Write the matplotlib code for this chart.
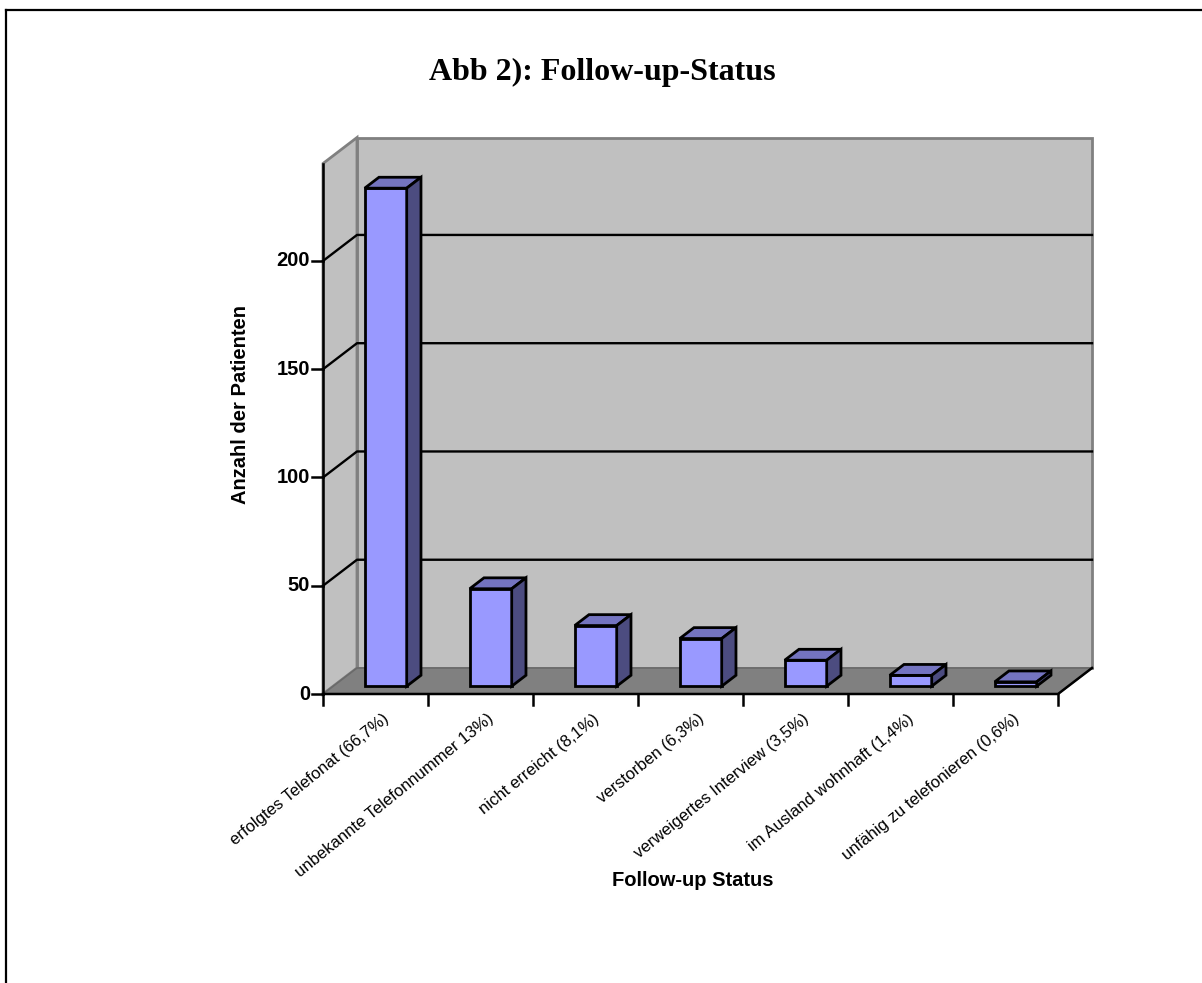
import numpy as np
import matplotlib
matplotlib.use("Agg")
import matplotlib.pyplot as plt
from matplotlib.patches import Polygon
from matplotlib.lines import Line2D

# Follow-up data
categories = [
    "erfolgtes Telefonat (66,7%)",
    "unbekannte Telefonnummer 13%)",
    "nicht erreicht (8,1%)",
    "verstorben (6,3%)",
    "verweigertes Interview (3,5%)",
    "im Ausland wohnhaft (1,4%)",
    "unfähig zu telefonieren (0,6%)",
]
patients = [230, 45, 28, 22, 12, 5, 2]
y_ticks = [0, 50, 100, 150, 200]
y_max = 245

W, H = 1202, 983
fig = plt.figure(figsize=(W / 100, H / 100), dpi=100)

# front plane of the 3d box (pixels)
left_px, right_px, base_px, top_px = 323, 1058, 694, 163.5
ax = fig.add_axes([left_px / W, 1 - base_px / H,
                   (right_px - left_px) / W, (base_px - top_px) / H])
n = len(categories)
ax.set_xlim(0, n)
ax.set_ylim(0, y_max)
ax.axis("off")

# depth offset of the box in data units
px_x = (right_px - left_px) / n
px_y = (base_px - top_px) / y_max
ddx = 34 / px_x
ddy = 26 / px_y


def pt(x, v, d):
    return (x + d * ddx, v + d * ddy)


def face(pts, fc, ec, lw=1.5, z=1):
    ax.add_patch(Polygon(pts, closed=True, facecolor=fc, edgecolor=ec,
                         linewidth=lw, joinstyle="miter", clip_on=False,
                         zorder=z))


wall = "#c0c0c0"
edge_gray = "#808080"

# back wall, side wall, floor
face([pt(0, 0, 1), pt(n, 0, 1), pt(n, y_max, 1), pt(0, y_max, 1)], wall, edge_gray, 2)
face([pt(0, 0, 0), pt(0, 0, 1), pt(0, y_max, 1), pt(0, y_max, 0)], wall, edge_gray, 2)
face([pt(0, 0, 0), pt(n, 0, 0), pt(n, 0, 1), pt(0, 0, 1)], "#808080", "#6a6a6a", 1.2)

# gridlines
for v in y_ticks[1:]:
    xs, ys = zip(pt(0, v, 0), pt(0, v, 1), pt(n, v, 1))
    ax.plot(xs, ys, color="black", lw=1.7, clip_on=False, zorder=2)

# bars
d0, d1 = 0.3, 0.72
half = 0.2
for i, val in enumerate(patients):
    x0, x1 = i + 0.5 - half, i + 0.5 + half
    face([pt(x0, 0, d0), pt(x1, 0, d0), pt(x1, val, d0), pt(x0, val, d0)],
         "#9999ff", "black", 2, 3)
    face([pt(x0, val, d0), pt(x1, val, d0), pt(x1, val, d1), pt(x0, val, d1)],
         "#7474c0", "black", 2, 3)
    face([pt(x1, 0, d0), pt(x1, 0, d1), pt(x1, val, d1), pt(x1, val, d0)],
         "#4c4c80", "black", 2, 3)

# axes lines
ax.plot([0, 0], [0, y_max], color="black", lw=1.8, clip_on=False, zorder=4)
xs, ys = zip(pt(0, 0, 0), pt(n, 0, 0), pt(n, 0, 1))
ax.plot(xs, ys, color="black", lw=1.8, clip_on=False, zorder=4)

tick_x = 11 / px_x
tick_y = 11 / px_y
for v in y_ticks:
    ax.plot([0, -tick_x], [v, v], color="black", lw=1.8, clip_on=False, zorder=4)
    ax.text(-tick_x - 2 / px_x, v, str(v), ha="right", va="center",
            fontsize=14.5, fontweight="bold", family="Liberation Sans")
for i in range(n + 1):
    ax.plot([i, i], [0, -tick_y], color="black", lw=1.8, clip_on=False, zorder=4)

for i, lab in enumerate(categories):
    ax.annotate(lab, xy=(i + 0.5, 0), xytext=(7, -17), textcoords="offset pixels",
                rotation=39, ha="right", va="top", rotation_mode="anchor",
                fontsize=12, family="Liberation Sans")

fig.text(602 / W, 1 - 72 / H, "Abb 2): Follow-up-Status", ha="center", va="center",
         fontsize=23, fontweight="bold", family="Liberation Serif")
fig.text(240 / W, 1 - 405 / H, "Anzahl der Patienten", ha="center", va="center",
         rotation=90, fontsize=14.5, fontweight="bold", family="Liberation Sans")
fig.text(693 / W, 1 - 880 / H, "Follow-up Status", ha="center", va="center",
         fontsize=14.5, fontweight="bold", family="Liberation Sans")

# outer frame
fig.add_artist(Line2D([6 / W, 6 / W], [0, 1 - 9.5 / H], color="black", lw=1.6))
fig.add_artist(Line2D([6 / W, 1], [1 - 9.5 / H, 1 - 9.5 / H], color="black", lw=1.6))

fig.savefig("out.png", dpi=100)
